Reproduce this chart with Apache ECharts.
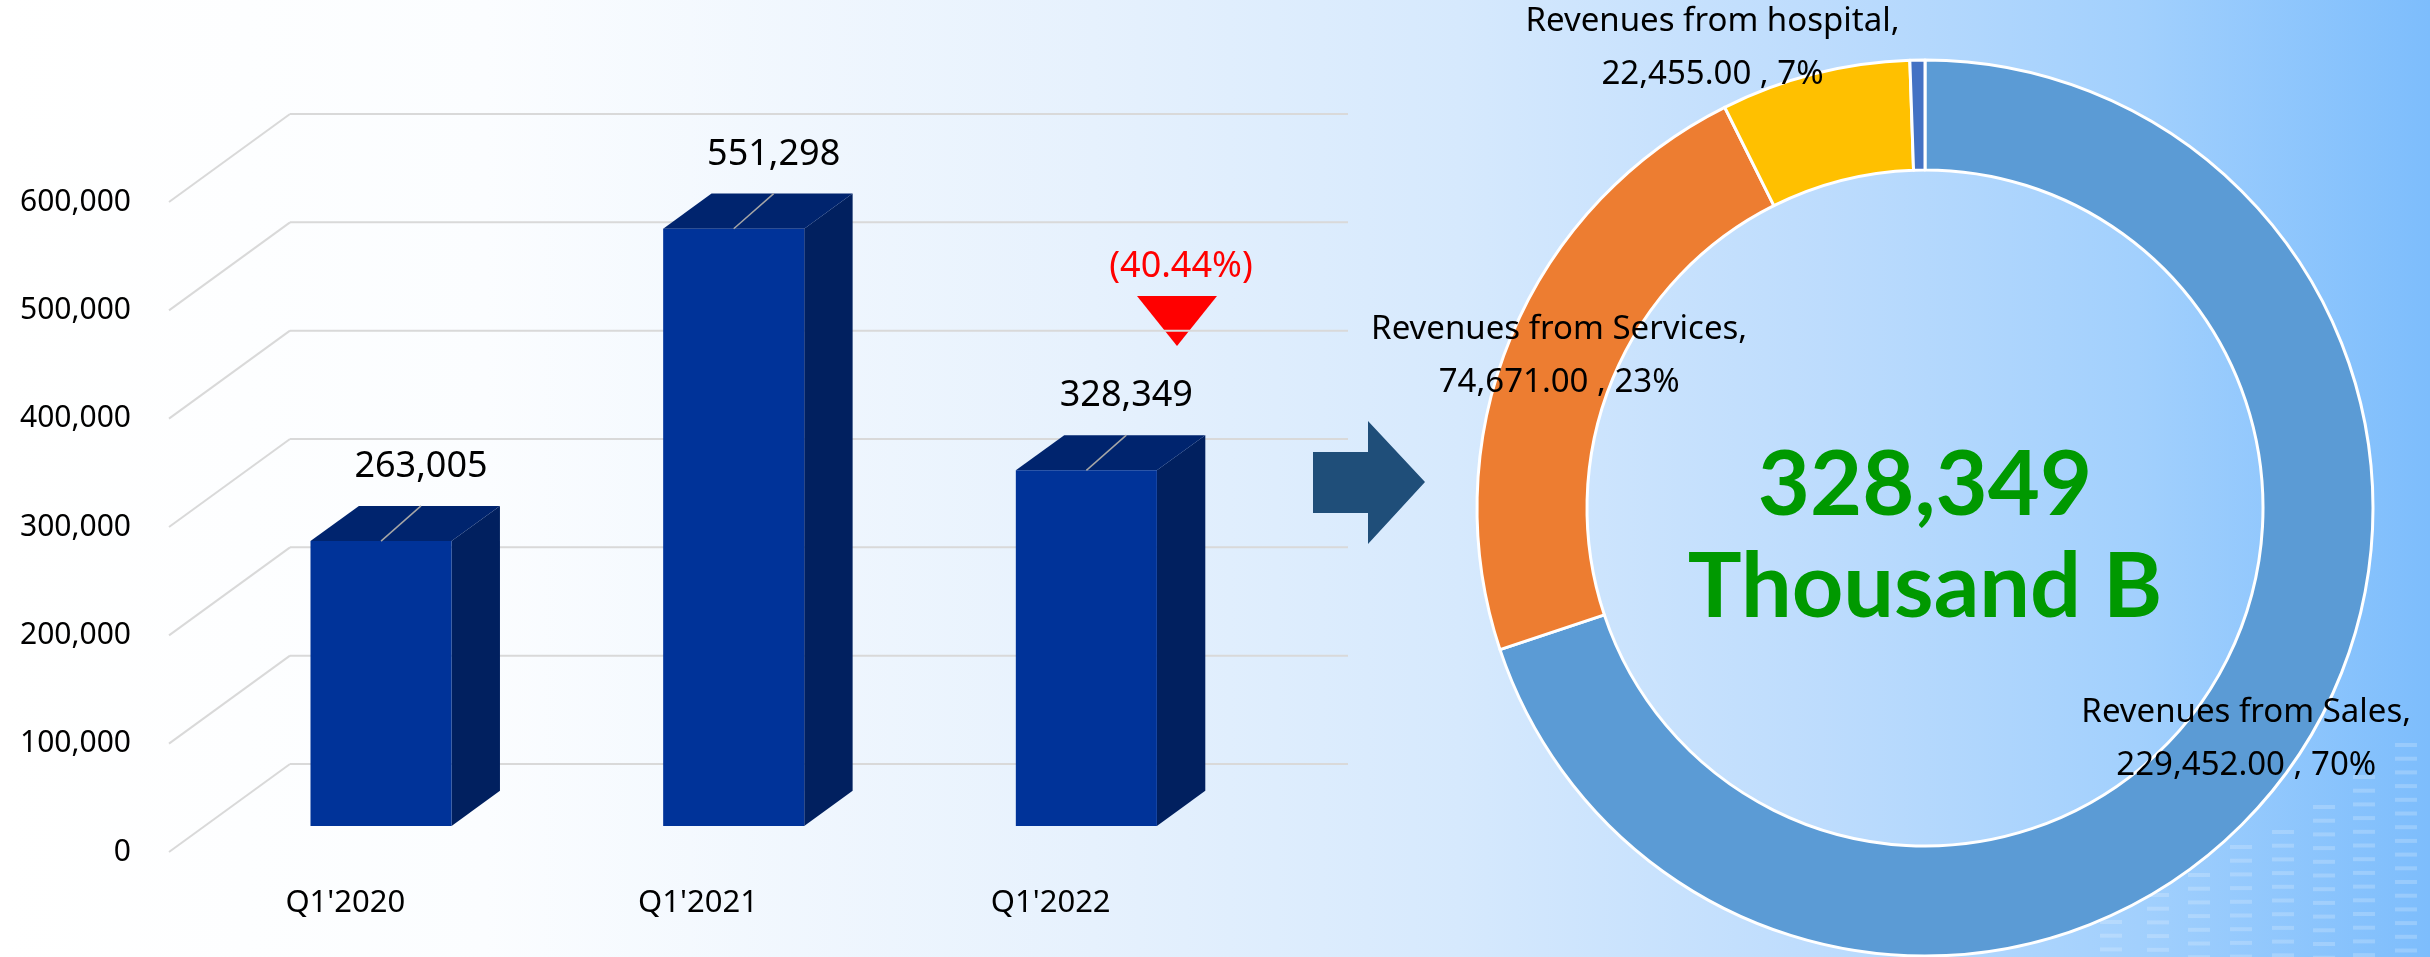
<!DOCTYPE html>
<html>
<head>
<meta charset="utf-8">
<script src="https://cdn.jsdelivr.net/npm/echarts@6/dist/echarts.min.js"></script>
<style>
html,body{margin:0;padding:0;overflow:hidden;}
#chart{width:2430px;height:957px;}
</style>
</head>
<body>
<div id="chart"></div>
<script>
// ---------------- data ----------------
const categories = ["Q1'2020", "Q1'2021", "Q1'2022"];
const revenueValues = [263005, 551298, 328349];
const yTicks = [0, 100000, 200000, 300000, 400000, 500000, 600000];
const segmentNames = ['Revenues from Sales', 'Revenues from Services', 'Revenues from hospital', 'Other revenues'];
const segmentValues = [229452, 74671, 22455, 1771];
const centerUnit = 'Thousand B';

// ---------------- styles / layout ----------------
const FONT = "'Noto Sans', 'Open Sans', sans-serif";
const segmentColors = ['#5b9bd5', '#ed7d31', '#ffc000', '#4472c4'];
const GRID = { left: 169, top: 202, width: 1058, height: 650 };
const DEPTH = [121, -88];           // offset of back wall from front plane
const BAR_T0 = 0.295, BAR_T1 = 0.695, BAR_W = 0.4;
const PIE_CENTER = [1925, 508];

const fmtInt = v => Math.round(v).toLocaleString('en-US');
const fmt2 = v => v.toLocaleString('en-US', { minimumFractionDigits: 2, maximumFractionDigits: 2 });

function renderGrid(params, api) {
  const v = api.value(1);
  const p = api.coord([0, v]);
  const cs = params.coordSys;
  const x0 = cs.x, y = p[1];
  const ls = { stroke: '#d9d9d9', lineWidth: 2 };
  return {
    type: 'group', silent: true,
    children: [
      { type: 'line', shape: { x1: x0, y1: y, x2: x0 + DEPTH[0], y2: y + DEPTH[1] }, style: ls },
      { type: 'line', shape: { x1: x0 + DEPTH[0], y1: y + DEPTH[1], x2: x0 + DEPTH[0] + cs.width, y2: y + DEPTH[1] }, style: ls }
    ]
  };
}

function renderBar(params, api) {
  const cat = api.value(0), v = api.value(1);
  const base = api.coord([cat, 0]);
  const top = api.coord([cat, v]);
  const band = api.size([1, 0])[0];
  const hw = band * BAR_W / 2;
  const fx = base[0] + DEPTH[0] * BAR_T0;
  const oy = DEPTH[1] * BAR_T0;
  const x1 = fx - hw, x2 = fx + hw;
  const yb = base[1] + oy, yt = top[1] + oy;
  const dd = [DEPTH[0] * (BAR_T1 - BAR_T0), DEPTH[1] * (BAR_T1 - BAR_T0)];
  const lx = fx + 40, ly = yt + dd[1];
  return {
    type: 'group',
    children: [
      { type: 'polygon', shape: { points: [[x2, yt], [x2 + dd[0], yt + dd[1]], [x2 + dd[0], yb + dd[1]], [x2, yb]] }, style: { fill: '#01205f' } },
      { type: 'polygon', shape: { points: [[x1, yt], [x2, yt], [x2 + dd[0], yt + dd[1]], [x1 + dd[0], yt + dd[1]]] }, style: { fill: '#00246e' } },
      { type: 'rect', shape: { x: x1, y: yt, width: x2 - x1, height: yb - yt }, style: { fill: '#003399' } },
      { type: 'line', shape: { x1: fx, y1: yt, x2: lx, y2: ly }, style: { stroke: '#a6a6a6', lineWidth: 1.5 } },
      { type: 'text', x: lx, y: ly - 39, style: { text: fmtInt(v), fontSize: 36, fontFamily: FONT, fill: '#000', align: 'center', verticalAlign: 'middle' } }
    ]
  };
}

// decorative background bars (bottom right)
const deco = [];
const decoCols = [[2100, 920], [2147, 893], [2188, 873], [2230, 845], [2272, 830], [2313, 805], [2353, 775], [2395, 743]];
decoCols.forEach(([x, t]) => {
  for (let y = t; y < 957; y += 13.7) {
    deco.push({ type: 'rect', shape: { x: x, y: y, width: 22, height: 4 }, style: { fill: 'rgba(255,255,255,0.2)' }, silent: true, z: -1 });
  }
});

const total = segmentValues.reduce((a, b) => a + b, 0);
const change = (revenueValues[2] - revenueValues[1]) / revenueValues[1] * 100;
const changeText = change < 0 ? '(' + Math.abs(change).toFixed(2) + '%)' : change.toFixed(2) + '%';

const chart = echarts.init(document.getElementById('chart'), null, { renderer: 'canvas' });
chart.setOption({
  animation: false,
  backgroundColor: {
    type: 'linear', x: 0, y: 0, x2: 1, y2: 0,
    colorStops: [
      { offset: 0, color: '#ffffff' },
      { offset: 0.2, color: '#fbfdff' },
      { offset: 0.45, color: '#e6f1fd' },
      { offset: 0.6, color: '#d6e9fd' },
      { offset: 0.75, color: '#bddcfd' },
      { offset: 0.88, color: '#a2d0fd' },
      { offset: 1, color: '#7dbdfc' }
    ]
  },
  textStyle: { fontFamily: FONT },
  grid: { left: GRID.left, top: GRID.top, width: GRID.width, height: GRID.height },
  xAxis: {
    type: 'category', data: categories,
    axisLine: { show: false }, axisTick: { show: false }, splitLine: { show: false },
    axisLabel: { fontSize: 31, color: '#000', margin: 36, fontFamily: FONT }
  },
  yAxis: {
    type: 'value', min: 0, max: 600000, interval: 100000,
    axisLine: { show: false }, axisTick: { show: false }, splitLine: { show: false },
    axisLabel: { fontSize: 30, color: '#000', margin: 38, fontFamily: FONT, formatter: v => fmtInt(v) }
  },
  series: [
    {
      type: 'custom', name: 'grid', renderItem: renderGrid, silent: true, z: 1,
      encode: { x: 0, y: 1 },
      data: yTicks.map(v => [0, v])
    },
    {
      type: 'custom', name: 'Revenue', renderItem: renderBar, z: 2,
      encode: { x: 0, y: 1 },
      data: revenueValues.map((v, i) => [i, v])
    },
    {
      type: 'pie', name: 'Segments',
      center: PIE_CENTER, radius: [338, 448],
      startAngle: 90, clockwise: true, avoidLabelOverlap: false,
      itemStyle: { borderColor: '#ffffff', borderWidth: 3 },
      label: {
        show: true, position: 'inside', color: '#000', fontSize: 33, lineHeight: 53, fontFamily: FONT,
        formatter: p => p.name + ',\n' + fmt2(p.value) + ' , ' + Math.round(p.percent) + '%'
      },
      labelLine: { show: false },
      emphasis: { disabled: true },
      data: segmentNames.map((n, i) => {
        const d = { name: n, value: segmentValues[i], itemStyle: { color: segmentColors[i] } };
        if (i === 2) d.label = { offset: [-115, -76] };
        if (i === 3) d.label = { show: false };
        return d;
      })
    }
  ],
  graphic: deco.concat([
    { type: 'polygon', shape: { points: [[1313, 452], [1368, 452], [1368, 421], [1425, 482], [1368, 544], [1368, 513], [1313, 513]] }, style: { fill: '#1f4e79' } },
    { type: 'polygon', shape: { points: [[1137, 296], [1217, 296], [1177, 346]] }, style: { fill: '#ff0000' } },
    { type: 'text', x: 1181, y: 267, style: { text: changeText, fontSize: 36, fontFamily: FONT, fill: '#ff0000', align: 'center', verticalAlign: 'middle' } },
    { type: 'text', x: PIE_CENTER[0], y: 486, style: { text: fmtInt(total), fontSize: 90, fontWeight: 'bold', fontFamily: "Lato, 'Noto Sans', sans-serif", fill: '#009900', align: 'center', verticalAlign: 'middle' } },
    { type: 'text', x: PIE_CENTER[0], y: 588, style: { text: centerUnit, fontSize: 90, fontWeight: 'bold', fontFamily: "Lato, 'Noto Sans', sans-serif", fill: '#009900', align: 'center', verticalAlign: 'middle' } }
  ])
});
</script>
</body>
</html>
